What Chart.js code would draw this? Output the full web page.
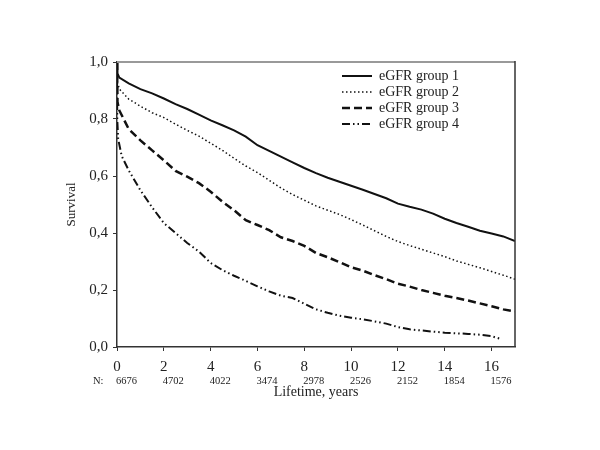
<!DOCTYPE html>
<html>
<head>
<meta charset="utf-8">
<script src="https://cdn.jsdelivr.net/npm/chart.js@4/dist/chart.umd.min.js"></script>
<style>
  html, body { margin: 0; padding: 0; background: #fff; }
  #wrap { width: 600px; height: 450px; }
</style>
</head>
<body>
<div id="wrap"><canvas id="c" width="600" height="450"></canvas></div>
<script>
// ---- data ----
const seriesLabels = ["eGFR group 1", "eGFR group 2", "eGFR group 3", "eGFR group 4"];

const timeG1 = [0, 0.02, 0.1, 0.5, 1, 1.5, 2, 2.5, 3, 3.5, 4, 4.5, 5, 5.5, 6, 6.5, 7, 7.5, 8, 8.5, 9, 9.5, 10, 10.5, 11, 11.5, 12, 12.5, 13, 13.5, 14, 14.5, 15, 15.5, 16, 16.5, 17];
const survG1 = [1.0, 0.96, 0.945, 0.925, 0.905, 0.89, 0.872, 0.852, 0.835, 0.815, 0.795, 0.778, 0.76, 0.738, 0.708, 0.688, 0.668, 0.648, 0.628, 0.61, 0.594, 0.58, 0.566, 0.552, 0.537, 0.522, 0.503, 0.492, 0.482, 0.468, 0.45, 0.435, 0.422, 0.408, 0.398, 0.388, 0.372];

const timeG2 = [0, 0.02, 0.1, 0.5, 1, 1.5, 2, 2.5, 3, 3.5, 4, 4.5, 5, 5.5, 6, 6.5, 7, 7.5, 8, 8.5, 9, 9.5, 10, 10.5, 11, 11.5, 12, 12.5, 13, 13.5, 14, 14.5, 15, 15.5, 16, 16.5, 17];
const survG2 = [1.0, 0.93, 0.905, 0.87, 0.845, 0.822, 0.805, 0.782, 0.76, 0.74, 0.715, 0.69, 0.662, 0.635, 0.612, 0.585, 0.558, 0.535, 0.515, 0.495, 0.48, 0.465, 0.447, 0.428, 0.408, 0.388, 0.37, 0.356, 0.343, 0.33, 0.317, 0.302, 0.29, 0.278, 0.265, 0.252, 0.238];

const timeG3 = [0, 0.02, 0.1, 0.5, 1, 1.5, 2, 2.5, 3, 3.5, 4, 4.5, 5, 5.5, 6, 6.5, 7, 7.5, 8, 8.5, 9, 9.5, 10, 10.5, 11, 11.5, 12, 12.5, 13, 13.5, 14, 14.5, 15, 15.5, 16, 16.5, 17];
const survG3 = [1.0, 0.86, 0.83, 0.765, 0.725, 0.69, 0.655, 0.618, 0.598, 0.575, 0.545, 0.51, 0.48, 0.445, 0.428, 0.41, 0.385, 0.372, 0.355, 0.33, 0.315, 0.298, 0.28, 0.268, 0.252, 0.238, 0.222, 0.212, 0.2, 0.19, 0.18, 0.172, 0.163, 0.153, 0.143, 0.132, 0.125];

const timeG4 = [0, 0.01, 0.05, 0.2, 0.5, 1, 1.5, 2, 2.5, 3, 3.5, 4, 4.5, 5, 5.5, 6, 6.5, 7, 7.5, 8, 8.5, 9, 9.5, 10, 10.5, 11, 11.5, 12, 12.5, 13, 13.5, 14, 14.5, 15, 15.5, 16, 16.4];
const survG4 = [1.0, 0.8, 0.73, 0.67, 0.62, 0.55, 0.49, 0.435, 0.4, 0.365, 0.335, 0.295, 0.27, 0.25, 0.232, 0.213, 0.195, 0.18, 0.172, 0.152, 0.132, 0.12, 0.11, 0.103, 0.097, 0.09, 0.082, 0.07, 0.062, 0.058, 0.054, 0.05, 0.048, 0.046, 0.043, 0.038, 0.028];

const xTicks = [0, 2, 4, 6, 8, 10, 12, 14, 16];
const yTicks = [0, 0.2, 0.4, 0.6, 0.8, 1.0];
const nAtRisk = ["6676", "4702", "4022", "3474", "2978", "2526", "2152", "1854", "1576"];

// ---- chart ----
const SERIF = "'Liberation Serif', 'Times New Roman', serif";
function pts(t, s) { return t.map((v, i) => ({ x: v, y: s[i] })); }

const styles = [
  { borderDash: [], borderWidth: 2 },
  { borderDash: [1.5, 2.5], borderWidth: 1.5 },
  { borderDash: [8, 4], borderWidth: 2.5 },
  { borderDash: [8, 3, 1.5, 3, 1.5, 3], borderWidth: 2 }
];
const allT = [timeG1, timeG2, timeG3, timeG4];
const allS = [survG1, survG2, survG3, survG4];

const datasets = seriesLabels.map((lab, i) => ({
  label: lab,
  data: pts(allT[i], allS[i]),
  borderColor: '#111',
  borderWidth: styles[i].borderWidth,
  borderDash: styles[i].borderDash,
  borderCapStyle: 'butt',
  pointRadius: 0,
  tension: 0,
  fill: false
}));

const extras = {
  id: 'extras',
  afterDraw(chart) {
    const ctx = chart.ctx;
    const a = chart.chartArea;
    const xs = chart.scales.x;
    ctx.save();
    // frame top & right
    ctx.strokeStyle = '#999';
    ctx.lineWidth = 2;
    ctx.beginPath(); ctx.moveTo(a.left, a.top); ctx.lineTo(a.right, a.top); ctx.stroke();
    ctx.strokeStyle = '#333';
    ctx.lineWidth = 1.5;
    ctx.beginPath(); ctx.moveTo(a.right, a.top - 1); ctx.lineTo(a.right, a.bottom); ctx.stroke();
    // numbers at risk
    ctx.fillStyle = '#222';
    ctx.font = "10.5px " + SERIF;
    ctx.textBaseline = 'middle';
    ctx.textAlign = 'left';
    xTicks.forEach((t, i) => {
      ctx.fillText(nAtRisk[i], xs.getPixelForValue(t) - 1, 381);
    });
    ctx.fillText('N:', 93, 381);
    // legend
    ctx.font = "14px " + SERIF;
    ctx.textAlign = 'left';
    chart.data.datasets.forEach((ds, i) => {
      const y = 76 + i * 16;
      ctx.strokeStyle = ds.borderColor;
      ctx.lineWidth = ds.borderWidth;
      ctx.setLineDash(ds.borderDash);
      ctx.beginPath(); ctx.moveTo(342, y); ctx.lineTo(372, y); ctx.stroke();
      ctx.setLineDash([]);
      ctx.fillText(ds.label, 379, y);
    });
    ctx.restore();
  }
};

new Chart(document.getElementById('c'), {
  type: 'line',
  data: { datasets },
  options: {
    responsive: false,
    animation: false,
    layout: { padding: { left: 0, top: 62, right: 85, bottom: 0 } },
    plugins: { legend: { display: false }, tooltip: { enabled: false } },
    scales: {
      x: {
        type: 'linear',
        min: 0, max: 17,
        afterFit(s) { s.height = 103; },
        afterBuildTicks(s) { s.ticks = xTicks.map(v => ({ value: v })); },
        border: { display: true, color: '#333', width: 1.5 },
        grid: { display: true, drawOnChartArea: false, drawTicks: true, tickLength: 4, color: '#333', lineWidth: 1 },
        ticks: { color: '#222', font: { family: SERIF, size: 15 }, padding: 7, maxRotation: 0, autoSkip: false,
                 callback: v => String(v) },
        title: { display: true, text: 'Lifetime, years', color: '#222', font: { family: SERIF, size: 14 },
                 padding: { top: 0, bottom: 49.6 } }
      },
      y: {
        type: 'linear',
        min: 0, max: 1,
        afterFit(s) { s.width = 117; },
        afterBuildTicks(s) { s.ticks = yTicks.map(v => ({ value: v })); },
        border: { display: true, color: '#333', width: 1.5 },
        grid: { display: true, drawOnChartArea: false, drawTicks: true, tickLength: 4, color: '#333', lineWidth: 1 },
        ticks: { color: '#222', font: { family: SERIF, size: 15 }, padding: 5,
                 callback: v => v.toFixed(1).replace('.', ',') },
        title: { display: true, text: 'Survival', color: '#222', font: { family: SERIF, size: 13 },
                 padding: { top: 64, bottom: 0 } }
      }
    }
  },
  plugins: [extras]
});
</script>
</body>
</html>
